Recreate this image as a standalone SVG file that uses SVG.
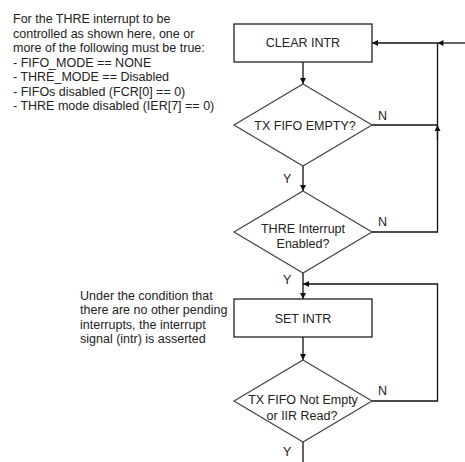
<svg xmlns="http://www.w3.org/2000/svg" width="465" height="462" viewBox="0 0 465 462">
  <defs>
    <marker id="ah" viewBox="0 0 10 10" refX="10" refY="5" markerWidth="6" markerHeight="6" markerUnits="userSpaceOnUse" orient="auto">
      <path d="M0,0 L10,5 L0,10 z" fill="#111"/>
    </marker>
    <style>
      text { font-family: "Liberation Sans", Arial, sans-serif; font-size: 12.5px; fill: #222; }
      .c { text-anchor: middle; }
      .box { fill: #fff; stroke: #222; stroke-width: 1.3; }
      .dia { fill: #fff; stroke: #444; stroke-width: 1.2; }
      .ln { fill: none; stroke: #111; stroke-width: 1.3; }
      .arr { marker-end: url(#ah); }
    </style>
  </defs>
  <rect width="465" height="462" fill="#fff"/>

  <g id="note1">
    <text x="13" y="23">For the THRE interrupt to be</text>
    <text x="13" y="37.5">controlled as shown here, one or</text>
    <text x="13" y="52">more of the following must be true:</text>
    <text x="13" y="66.5">- FIFO_MODE == NONE</text>
    <text x="13" y="81">- THRE_MODE == Disabled</text>
    <text x="13" y="95.5">- FIFOs disabled (FCR[0] == 0)</text>
    <text x="13" y="110">- THRE mode disabled (IER[7] == 0)</text>
  </g>

  <g id="note2">
    <text x="80" y="299.5">Under the condition that</text>
    <text x="80" y="314">there are no other pending</text>
    <text x="80" y="328.5">interrupts, the interrupt</text>
    <text x="80" y="343">signal (intr) is asserted</text>
  </g>

  <g id="connectors">
    <line class="ln arr" x1="303" y1="62" x2="303" y2="84"/>
    <line class="ln arr" x1="303" y1="166" x2="303" y2="191"/>
    <line class="ln arr" x1="303" y1="273" x2="303" y2="299"/>
    <line class="ln arr" x1="303" y1="337" x2="303" y2="360"/>
    <line class="ln" x1="303" y1="442" x2="303" y2="462"/>
    <line class="ln arr" x1="465" y1="43" x2="437.5" y2="43"/>
    <line class="ln arr" x1="437.5" y1="43" x2="372" y2="43"/>
    <polyline class="ln" points="372,232 437.5,232 437.5,43"/>
    <line class="ln arr" x1="437.5" y1="140" x2="437.5" y2="125"/>
    <line class="ln" x1="372" y1="125" x2="437.5" y2="125"/>
    <polyline class="ln arr" points="372,401 437.5,401 437.5,284 303,284"/>
  </g>

  <g id="clear_intr">
    <rect class="box" x="234" y="24" width="138" height="38"/>
    <text class="c" x="303" y="47">CLEAR INTR</text>
  </g>

  <g id="tx_fifo_empty">
    <polygon class="dia" points="303,84 372,125 303,166 234,125"/>
    <text class="c" x="305" y="129.5">TX FIFO EMPTY?</text>
    <text x="378" y="119.5">N</text>
    <text x="283" y="182.5">Y</text>
  </g>

  <g id="thre_enabled">
    <polygon class="dia" points="303,191 372,232 303,273 234,232"/>
    <text class="c" x="303" y="232.5">THRE Interrupt</text>
    <text class="c" x="303" y="247.5">Enabled?</text>
    <text x="378" y="226">N</text>
    <text x="283" y="283.5">Y</text>
  </g>

  <g id="set_intr">
    <rect class="box" x="234" y="299" width="138" height="38"/>
    <text class="c" x="303" y="322.5">SET INTR</text>
  </g>

  <g id="tx_fifo_not_empty">
    <polygon class="dia" points="303,360 372,401 303,442 234,401"/>
    <text class="c" x="303" y="404">TX FIFO Not Empty</text>
    <text class="c" x="302" y="419.5">or IIR Read?</text>
    <text x="378" y="394.5">N</text>
    <text x="283" y="456">Y</text>
  </g>
</svg>
